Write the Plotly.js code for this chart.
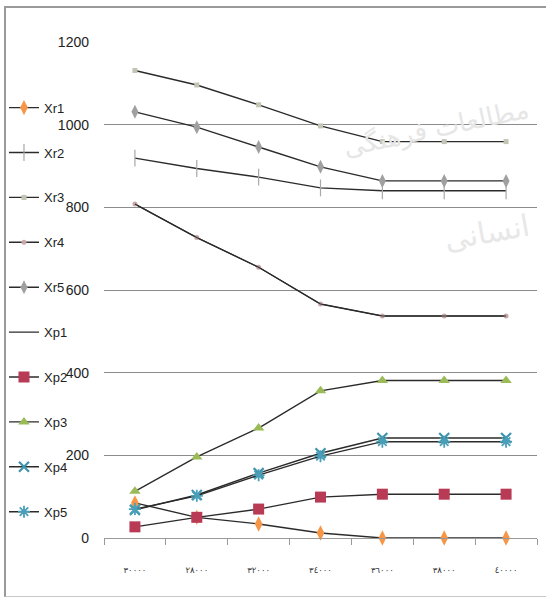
<!DOCTYPE html>
<html><head><meta charset="utf-8">
<script src="https://cdn.plot.ly/plotly-3.0.1.min.js"></script>
<style>
html,body{margin:0;padding:0;background:#fff;}
#wrap{position:relative;width:546px;height:607px;overflow:hidden;}
#frame{position:absolute;left:4px;top:6px;width:600px;height:591px;border-left:2px solid #9a9a9a;border-top:2px solid #9a9a9a;border-bottom:1px solid #c8c8c8;box-sizing:border-box;}
#chart{position:absolute;left:0;top:0;width:546px;height:607px;}
</style></head>
<body><div id="wrap"><div id="frame"></div><div id="chart"></div></div>
<script>
var categories = ["٣٠٠٠٠","٢٨٠٠٠","٣٢٠٠٠","٣٤٠٠٠","٣٦٠٠٠","٣٨٠٠٠","٤٠٠٠٠"];
var Xr1 = [85, 50, 34, 12, 0, 0, 0];
var Xr2 = [919, 894, 873, 847, 840, 840, 840];
var Xr3 = [1131, 1096, 1048, 997, 959, 959, 959];
var Xr4 = [808, 727, 655, 566, 537, 537, 537];
var Xr5 = [1031, 994, 946, 898, 864, 864, 864];
var Xp1 = [808, 727, 655, 566, 537, 537, 537];
var Xp2 = [27, 50, 70, 99, 106, 106, 106];
var Xp3 = [113, 196, 266, 356, 381, 381, 381];
var Xp4 = [68, 104, 157, 205, 242, 242, 242];
var Xp5 = [70, 102, 152, 198, 233, 233, 233];
var yTicks = [0, 200, 400, 600, 800, 1000, 1200];

var LINE = '#2b2b2b';
function tr(name, y, marker, grp){
  var t = {type:'scatter', mode: marker ? 'lines+markers' : 'lines', name:name, x:categories, y:y,
    line:{color:LINE, width:1.4}, legendgroup:grp, cliponaxis:false};
  if (marker) t.marker = marker;
  return t;
}
var data = [
  tr('Xr1', Xr1, {symbol:'diamond-tall', size:11, color:'#F79646'}, 'g1'),
  tr('Xr2', Xr2, {symbol:'line-ns-open', size:12, color:'#a8a8a8', line:{width:1.2, color:'#a8a8a8'}}, 'g2'),
  tr('Xr3', Xr3, {symbol:'square', size:5, color:'#c4c4b4'}, 'g3'),
  tr('Xr4', Xr4, {symbol:'circle', size:5, color:'#c8a8a8'}, 'g4'),
  tr('Xr5', Xr5, {symbol:'diamond-tall', size:10, color:'#a0a0a0'}, 'g5'),
  tr('Xp1', Xp1, null, 'g6'),
  tr('Xp2', Xp2, {symbol:'square', size:11, color:'#B83A55'}, 'g7'),
  tr('Xp3', Xp3, {symbol:'triangle-up', size:10, color:'#9BBB59'}, 'g8'),
  tr('Xp4', Xp4, {symbol:'x-thin-open', size:10, color:'#3f95ae', line:{width:2.2, color:'#3f95ae'}}, 'g9'),
  tr('Xp5', Xp5, {symbol:'asterisk-open', size:10, color:'#4a9fb8', line:{width:1.8, color:'#4a9fb8'}}, 'g10')
];
data[5].line.width = 1.1;

var layout = {
  width:546, height:607,
  margin:{l:104, r:9, t:42, b:69},
  paper_bgcolor:'rgba(0,0,0,0)', plot_bgcolor:'rgba(0,0,0,0)',
  font:{family:'"Liberation Sans",Arial,sans-serif', size:14, color:'#222'},
  showlegend:true,
  legend:{xref:'container', yref:'container', x:0.0073, xanchor:'left', y:0.8474, yanchor:'top',
    traceorder:'grouped', tracegroupgap:25, maxheight:600,
    font:{size:13, color:'#222'}, bgcolor:'rgba(0,0,0,0)', itemwidth:30},
  xaxis:{type:'category', tickson:'boundaries', ticks:'outside', ticklen:6, tickcolor:'#999',
    showline:true, linecolor:'#999', showgrid:false, zeroline:false, automargin:false,
    tickfont:{family:'"DejaVu Sans",sans-serif', size:8.5, color:'#333'}, ticklabelstandoff:24,
    range:[-0.5, 6.5]},
  yaxis:{range:[0,1200], tickvals:yTicks, showgrid:true, gridcolor:'#8c8c8c', gridwidth:1,
    showline:false, zeroline:false, ticks:'', ticklabelstandoff:14, automargin:false,
    tickfont:{size:14, color:'#222'}},
  annotations:[
    {xref:'paper', yref:'paper', x:0.995, y:0.9, xanchor:'right', text:'مطالعات فرهنگی', showarrow:false,
     font:{family:'"DejaVu Sans",sans-serif', size:26, color:'#e6e6e6'}, textangle:-12},
    {xref:'paper', yref:'paper', x:0.995, y:0.67, xanchor:'right', text:'انسانی', showarrow:false,
     font:{family:'"DejaVu Sans",sans-serif', size:30, color:'#e8e8e8'}, textangle:-10}
  ]
};
Plotly.newPlot('chart', data, layout, {staticPlot:true});
</script></body></html>
